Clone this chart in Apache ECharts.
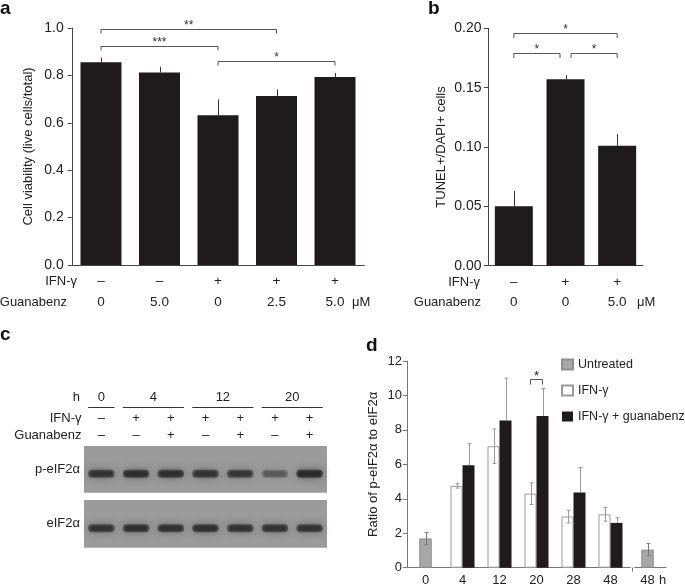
<!DOCTYPE html>
<html><head><meta charset="utf-8">
<script src="https://cdn.jsdelivr.net/npm/echarts@6/dist/echarts.min.js"></script>
<style>html,body{margin:0;padding:0;background:#fff}#c{width:685px;height:587px}</style>
</head><body><div id="c"></div>
<script>
// ---------- Panel a : cell viability ----------
const aIFN = ['–', '–', '+', '+', '+'];
const aGuanabenz = ['0', '5.0', '0', '2.5', '5.0'];
const aViability = [0.855, 0.812, 0.632, 0.713, 0.793];
const aViabilityErr = [0.02, 0.024, 0.067, 0.028, 0.017];
const aBrackets = [[0, 3, 0.995, '**'], [0, 2, 0.925, '***'], [2, 4, 0.862, '*']];

// ---------- Panel b : TUNEL ----------
const bIFN = ['–', '+', '+'];
const bGuanabenz = ['0', '0', '5.0'];
const bTunel = [0.050, 0.157, 0.101];
const bTunelErr = [0.013, 0.0035, 0.0098];
const bBrackets = [[0, 2, 0.196, '*'], [0, 1, 0.179, '*'], [1, 2, 0.179, '*']];

// ---------- Panel c : western blot ----------
const cHourGroups = [['0', 0, 0], ['4', 1, 2], ['12', 3, 4], ['20', 5, 6]];
const cIFN = ['–', '+', '+', '+', '+', '+', '+'];
const cGuanabenz = ['–', '–', '+', '–', '+', '–', '+'];
const cPhosphoBand = [0.85, 0.9, 0.92, 0.85, 0.8, 0.45, 1.0];
const cTotalBand = [0.85, 0.88, 0.86, 0.88, 0.84, 0.85, 0.85];

// ---------- Panel d : ratio ----------
const dHours = ['0', '4', '12', '20', '28', '48', '48'];
const dUntreated = [1.7, null, null, null, null, null, 1.05];
const dUntreatedErr = [0.35, null, null, null, null, null, 0.35];
const dIFN = [null, 4.75, 7.05, 4.3, 2.97, 3.1, null];
const dIFNErr = [null, 0.13, 1.0, 0.63, 0.37, 0.4, null];
const dIFNGua = [null, 5.95, 8.55, 8.8, 4.37, 2.6, null];
const dIFNGuaErr = [null, 1.25, 2.45, 1.6, 1.45, 0.3, null];
const dBrackets = [[3, 10.95, '*']];

const FONT = "'Liberation Sans', Arial, Helvetica, sans-serif";
const TXT = '#222';
const BAR = '#1f1b1c';

const chart = echarts.init(document.getElementById('c'), null, {renderer: 'canvas'});

function errData(vals, errs) {
  const out = [];
  vals.forEach((v, i) => { if (v != null) out.push([i, v, errs[i]]); });
  return out;
}
function errRender(color, offsetPx, both, cap) {
  return function (params, api) {
    const i = api.value(0), v = api.value(1), e = api.value(2);
    const top = api.coord([i, v + e]);
    const bot = api.coord([i, both ? v - e : v]);
    const x = Math.round(top[0] + offsetPx) + 0.5;
    const ch = [{type: 'line', shape: {x1: x, y1: top[1], x2: x, y2: bot[1]}, style: {stroke: color, lineWidth: 1}}];
    if (cap) {
      ch.push({type: 'line', shape: {x1: x - cap, y1: top[1], x2: x + cap, y2: top[1]}, style: {stroke: color, lineWidth: 1}});
      if (both) ch.push({type: 'line', shape: {x1: x - cap, y1: bot[1], x2: x + cap, y2: bot[1]}, style: {stroke: color, lineWidth: 1}});
    }
    return {type: 'group', children: ch};
  };
}
function bracketRender(list, tick, color) {
  return function (params, api) {
    const b = list[params.dataIndex];
    const p1 = api.coord([b[0], b[2]]), p2 = api.coord([b[1], b[2]]);
    let x1 = p1[0], x2 = p2[0];
    list.forEach((o, j) => {
      if (j !== params.dataIndex && o[2] === b[2]) {
        if (o[0] === b[1]) x2 -= 5.5;
        if (o[1] === b[0]) x1 += 5.5;
      }
    });
    const y = Math.round(p1[1]) + 0.5;
    return {type: 'group', children: [
      {type: 'polyline', shape: {points: [[x1, y + tick], [x1, y], [x2, y], [x2, y + tick]]}, style: {stroke: color, lineWidth: 1, fill: null}},
      {type: 'text', style: {text: b[3], x: (x1 + x2) / 2, y: y - 3.5, align: 'center', verticalAlign: 'middle', font: '12px ' + FONT, fill: '#333'}}
    ]};
  };
}
function bandRender(values) {
  return function (params, api) {
    const i = api.value(0), k = values[i];
    const c = api.coord([i, 0]);
    const bw = api.size([1, 0])[0] * 0.76;
    const h = 8;
    const col = 'rgba(40,40,40,' + (k * 0.7) + ')';
    const core = 'rgba(30,30,30,' + (k * 0.55) + ')';
    return {type: 'group', children: [
      {type: 'rect', shape: {x: c[0] - bw / 2, y: c[1] + 4.5 - h / 2, width: bw, height: h, r: 4},
        style: {fill: col, shadowBlur: 8, shadowColor: col}},
      {type: 'rect', shape: {x: c[0] - bw / 2 + 2, y: c[1] + 4.5 - h / 2 + 1.5, width: bw - 4, height: h - 3, r: 2.5},
        style: {fill: core, shadowBlur: 4, shadowColor: core}}
    ]};
  };
}

const yAxisCommon = {
  type: 'value', splitLine: {show: false},
  axisLine: {show: true, lineStyle: {color: '#444', width: 1}},
  axisTick: {show: true, length: 4, lineStyle: {color: '#444'}},
  nameLocation: 'middle', nameRotate: 90,
  nameTextStyle: {fontFamily: FONT, fontSize: 13, color: TXT},
  axisLabel: {fontFamily: FONT, fontSize: 14, color: TXT}
};

const option = {
  animation: false,
  backgroundColor: '#fff',
  textStyle: {fontFamily: FONT},
  grid: [
    {left: 71.75, top: 28, width: 292.5, height: 237, outerBoundsMode: 'none'},
    {left: 488, top: 28.3, width: 155, height: 237.4, outerBoundsMode: 'none'},
    {left: 84, top: 446, width: 243, height: 46.7, show: true, backgroundColor: '#9b9b9b', borderWidth: 0, outerBoundsMode: 'none'},
    {left: 84, top: 500, width: 243, height: 47.7, show: true, backgroundColor: '#9b9b9b', borderWidth: 0, outerBoundsMode: 'none'},
    {left: 407, top: 361, width: 259, height: 206.7, outerBoundsMode: 'none'}
  ],
  xAxis: [
    {gridIndex: 0, type: 'category', data: aGuanabenz.map((g, i) => 'a' + i),
      axisLine: {lineStyle: {color: '#444'}}, axisTick: {show: false},
      axisLabel: {formatter: (v, i) => aIFN[i] + '\n' + aGuanabenz[i], lineHeight: 21, margin: 6, fontSize: 13.5, color: TXT, fontFamily: FONT}},
    {gridIndex: 1, type: 'category', data: bGuanabenz.map((g, i) => 'b' + i),
      axisLine: {lineStyle: {color: '#444'}}, axisTick: {show: false},
      axisLabel: {formatter: (v, i) => bIFN[i] + '\n' + bGuanabenz[i], lineHeight: 20, margin: 7, fontSize: 13.5, color: TXT, fontFamily: FONT}},
    {gridIndex: 2, type: 'category', position: 'top', data: cIFN.map((g, i) => 'l' + i),
      axisLine: {show: false}, axisTick: {show: false},
      axisLabel: {formatter: (v, i) => cIFN[i] + '\n' + cGuanabenz[i], lineHeight: 16.7, margin: 2.5, fontSize: 13, color: TXT, fontFamily: FONT}},
    {gridIndex: 3, type: 'category', data: cIFN.map((g, i) => 'l' + i), show: false},
    {gridIndex: 4, type: 'category', data: dHours.map((h, i) => 'h' + i),
      axisLine: {lineStyle: {color: '#777'}}, axisTick: {show: false},
      axisLabel: {formatter: (v, i) => dHours[i], margin: 6, fontSize: 13, color: TXT, fontFamily: FONT}},
    {gridIndex: 4, type: 'category', data: dHours.map((h, i) => 'h' + i), show: false}
  ],
  yAxis: [
    Object.assign({}, yAxisCommon, {gridIndex: 0, min: 0, max: 1, interval: 0.2,
      name: 'Cell viability (live cells/total)', nameGap: 37,
      axisLabel: Object.assign({}, yAxisCommon.axisLabel, {formatter: v => v.toFixed(1), margin: 8})}),
    Object.assign({}, yAxisCommon, {gridIndex: 1, min: 0, max: 0.2, interval: 0.05,
      name: 'TUNEL+/DAPI+ cells', nameGap: 40.5,
      axisLabel: Object.assign({}, yAxisCommon.axisLabel, {formatter: v => v.toFixed(2), margin: 6.5})}),
    {gridIndex: 2, type: 'category', data: ['p-eIF2α'], axisLine: {show: false}, axisTick: {show: false},
      axisLabel: {margin: 4, fontSize: 13, color: TXT, fontFamily: FONT}},
    {gridIndex: 3, type: 'category', data: ['eIF2α'], axisLine: {show: false}, axisTick: {show: false},
      axisLabel: {margin: 4, fontSize: 13, color: TXT, fontFamily: FONT}},
    Object.assign({}, yAxisCommon, {gridIndex: 4, min: 0, max: 12, interval: 2,
      name: 'Ratio of p-eIF2α to eIF2α', nameGap: 27.5,
      axisLine: {show: true, lineStyle: {color: '#777'}}, axisTick: {show: true, length: 4, lineStyle: {color: '#777'}},
      axisLabel: Object.assign({}, yAxisCommon.axisLabel, {fontSize: 13, margin: 5})})
  ],
  legend: {
    data: ['Untreated', 'IFN-γ', 'IFN-γ + guanabenz'],
    orient: 'vertical', left: 561, top: 358, itemWidth: 11, itemHeight: 10, itemGap: 13, icon: 'rect',
    textStyle: {fontFamily: FONT, fontSize: 12.5, color: TXT}, padding: 0
  },
  series: [
    // panel a
    {type: 'bar', xAxisIndex: 0, yAxisIndex: 0, data: aViability, barWidth: 41, itemStyle: {color: BAR}},
    {type: 'custom', xAxisIndex: 0, yAxisIndex: 0, data: errData(aViability, aViabilityErr),
      encode: {x: 0, y: 1}, renderItem: errRender('#333', 0, false, 0), z: 5},
    {type: 'custom', xAxisIndex: 0, yAxisIndex: 0, data: aBrackets.map(b => [b[0], b[1], b[2]]),
      encode: {x: [0, 1], y: 2}, renderItem: bracketRender(aBrackets, 4, '#555'), z: 5},
    // panel b
    {type: 'bar', xAxisIndex: 1, yAxisIndex: 1, data: bTunel, barWidth: 38, itemStyle: {color: BAR}},
    {type: 'custom', xAxisIndex: 1, yAxisIndex: 1, data: errData(bTunel, bTunelErr),
      encode: {x: 0, y: 1}, renderItem: errRender('#333', 0, false, 0), z: 5},
    {type: 'custom', xAxisIndex: 1, yAxisIndex: 1, data: bBrackets.map(b => [b[0], b[1], b[2]]),
      encode: {x: [0, 1], y: 2}, renderItem: bracketRender(bBrackets, 4.5, '#555'), z: 5},
    // panel c
    {type: 'custom', xAxisIndex: 2, yAxisIndex: 2, data: cPhosphoBand.map((v, i) => [i, 0, v]),
      encode: {x: 0, y: 1}, renderItem: bandRender(cPhosphoBand)},
    {type: 'custom', xAxisIndex: 3, yAxisIndex: 3, data: cTotalBand.map((v, i) => [i, 0, v]),
      encode: {x: 0, y: 1}, renderItem: bandRender(cTotalBand)},
    {type: 'custom', xAxisIndex: 2, yAxisIndex: 2, data: cHourGroups.map(g => [g[1], g[2], 0]),
      encode: {x: [0, 1], y: 2},
      renderItem: function (params, api) {
        const g = cHourGroups[params.dataIndex];
        const p1 = api.coord([g[1], 0]), p2 = api.coord([g[2], 0]);
        const bw = api.size([1, 0])[0];
        const ly = Math.round(params.coordSys.y - 38.7) + 0.5;
        const x1 = p1[0] - 0.38 * bw, x2 = p2[0] + 0.38 * bw;
        return {type: 'group', children: [
          {type: 'line', shape: {x1: x1, y1: ly, x2: x2, y2: ly}, style: {stroke: '#333', lineWidth: 1}},
          {type: 'text', style: {text: g[0], x: (x1 + x2) / 2, y: ly - 10, align: 'center', verticalAlign: 'middle', font: '13px ' + FONT, fill: TXT}}
        ]};
      }},
    // panel d
    {name: 'IFN-γ', type: 'bar', xAxisIndex: 4, yAxisIndex: 4, data: dIFN, barWidth: 12, barGap: '0%',
      itemStyle: {color: '#ffffff', borderColor: '#9a9a9a', borderWidth: 1}},
    {name: 'IFN-γ + guanabenz', type: 'bar', xAxisIndex: 4, yAxisIndex: 4, data: dIFNGua, barWidth: 12, barGap: '0%',
      itemStyle: {color: BAR}},
    {name: 'Untreated', type: 'bar', xAxisIndex: 5, yAxisIndex: 4, data: dUntreated, barWidth: 12.5,
      itemStyle: {color: '#a7a7a7', borderColor: '#8f8f8f', borderWidth: 1}},
    {type: 'custom', xAxisIndex: 4, yAxisIndex: 4, data: errData(dIFN, dIFNErr),
      encode: {x: 0, y: 1}, renderItem: errRender('#999', -6, true, 2), z: 5},
    {type: 'custom', xAxisIndex: 4, yAxisIndex: 4, data: errData(dIFNGua, dIFNGuaErr),
      encode: {x: 0, y: 1}, renderItem: errRender('#999', 6, false, 2), z: 5},
    {type: 'custom', xAxisIndex: 5, yAxisIndex: 4, data: errData(dUntreated, dUntreatedErr),
      encode: {x: 0, y: 1}, renderItem: errRender('#777', 0, true, 2), z: 5},
    {type: 'custom', xAxisIndex: 4, yAxisIndex: 4, data: dBrackets.map(b => [b[0], b[1]]),
      encode: {x: 0, y: 1}, z: 5,
      renderItem: function (params, api) {
        const b = dBrackets[params.dataIndex];
        const p = api.coord([b[0], b[1]]);
        const y = Math.round(p[1]) + 0.5;
        const x1 = p[0] - 6, x2 = p[0] + 6;
        // axis break mark between the last two categories
        const a5 = api.coord([5, 0]), a6 = api.coord([6, 0]);
        const bx = Math.round((a5[0] + a6[0]) / 2 + 3) + 0.5;
        return {type: 'group', children: [
          {type: 'polyline', shape: {points: [[x1, y + 5], [x1, y], [x2, y], [x2, y + 5]]}, style: {stroke: '#555', lineWidth: 1, fill: null}},
          {type: 'text', style: {text: b[2], x: p[0], y: y - 3.5, align: 'center', verticalAlign: 'middle', font: '13px ' + FONT, fill: '#222'}},
          {type: 'line', shape: {x1: bx - 2, y1: a5[1] + 0.5, x2: bx + 2, y2: a5[1] + 0.5}, style: {stroke: '#fff', lineWidth: 2}},
          {type: 'line', shape: {x1: bx, y1: a5[1], x2: bx, y2: a5[1] + 4}, style: {stroke: '#777', lineWidth: 1}}
        ]};
      }}
  ],
  graphic: [
    {type: 'text', style: {text: 'a', x: 0, y: 9, verticalAlign: 'middle', font: 'bold 19px ' + FONT, fill: '#111'}},
    {type: 'text', style: {text: 'b', x: 428, y: 9, verticalAlign: 'middle', font: 'bold 19px ' + FONT, fill: '#111'}},
    {type: 'text', style: {text: 'c', x: 0, y: 335, verticalAlign: 'middle', font: 'bold 19px ' + FONT, fill: '#111'}},
    {type: 'text', style: {text: 'd', x: 366, y: 346, verticalAlign: 'middle', font: 'bold 19px ' + FONT, fill: '#111'}},
    {type: 'text', style: {text: 'IFN-γ', x: 77, y: 281.7, align: 'right', verticalAlign: 'middle', font: '13px ' + FONT, fill: TXT}},
    {type: 'text', style: {text: 'Guanabenz', x: 67, y: 302.7, align: 'right', verticalAlign: 'middle', font: '13px ' + FONT, fill: TXT}},
    {type: 'text', style: {text: 'μM', x: 352, y: 302.7, verticalAlign: 'middle', font: '13px ' + FONT, fill: TXT}},
    {type: 'text', style: {text: 'IFN-γ', x: 480, y: 282.7, align: 'right', verticalAlign: 'middle', font: '13px ' + FONT, fill: TXT}},
    {type: 'text', style: {text: 'Guanabenz', x: 481, y: 302.7, align: 'right', verticalAlign: 'middle', font: '13px ' + FONT, fill: TXT}},
    {type: 'text', style: {text: 'μM', x: 637, y: 302.7, verticalAlign: 'middle', font: '13px ' + FONT, fill: TXT}},
    {type: 'text', style: {text: 'h', x: 80, y: 397, align: 'right', verticalAlign: 'middle', font: '13px ' + FONT, fill: TXT}},
    {type: 'text', style: {text: 'IFN-γ', x: 81.5, y: 418.3, align: 'right', verticalAlign: 'middle', font: '13px ' + FONT, fill: TXT}},
    {type: 'text', style: {text: 'Guanabenz', x: 81.5, y: 435, align: 'right', verticalAlign: 'middle', font: '13px ' + FONT, fill: TXT}},
    {type: 'text', style: {text: 'h', x: 659, y: 580, verticalAlign: 'middle', font: '13px ' + FONT, fill: TXT}}
  ]
};
chart.setOption(option);
</script>
</body></html>
